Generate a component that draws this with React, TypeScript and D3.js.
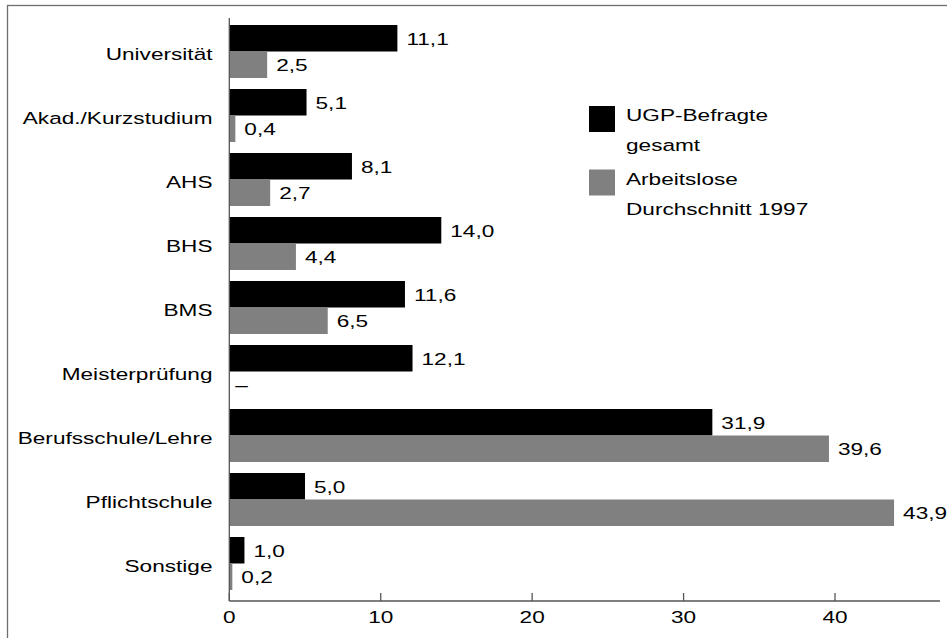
import React from "react";
import * as d3 from "d3";

const categories = [
  "Universität",
  "Akad./Kurzstudium",
  "AHS",
  "BHS",
  "BMS",
  "Meisterprüfung",
  "Berufsschule/Lehre",
  "Pflichtschule",
  "Sonstige",
];
const ugpValues: (number | null)[] = [11.1, 5.1, 8.1, 14.0, 11.6, 12.1, 31.9, 5.0, 1.0];
const alValues: (number | null)[] = [2.5, 0.4, 2.7, 4.4, 6.5, null, 39.6, 43.9, 0.2];
const xTicks = [0, 10, 20, 30, 40];
const legendLabels = [
  ["UGP-Befragte", "gesamt"],
  ["Arbeitslose", "Durchschnitt 1997"],
];
const seriesColors = ["#000000", "#808080"];

const W = 947;
const H = 638;
const SX = 1.33;
const FONT = "'Liberation Sans', Arial, sans-serif";

const fmt = (v: number) => v.toFixed(1).replace(".", ",");

function T({ x, y, anchor = "start", children, size = 17 }: any) {
  return (
    <text
      transform={`translate(${x},${y}) scale(${SX},1)`}
      textAnchor={anchor}
      fontFamily={FONT}
      fontSize={size}
      fill="#000"
    >
      {children}
    </text>
  );
}

export default function App() {
  const x = d3.scaleLinear().domain([0, 47]).range([229.3, 941]);
  const y = d3.scaleBand<string>().domain(categories).range([20.5, 596.5]).padding(0);
  const barH = 26.5;
  const offset = 4.5;
  const axisY = 601;
  const x0 = x(0);

  return (
    <svg
      width={W}
      height={H}
      style={{ position: "absolute", left: 0, top: 0, background: "#fff" }}
    >
      <rect x={0} y={0} width={W} height={H} fill="#fff" />
      <rect x={7.5} y={5.5} width={1000} height={1000} fill="none" stroke="#6e6e6e" strokeWidth={1.3} />

      {categories.map((c, i) => {
        const top = (y(c) as number) + offset;
        const series = [ugpValues[i], alValues[i]];
        return (
          <g key={c}>
            <T x={212.5} y={top + barH + 8.5} anchor="end">
              {c}
            </T>
            {series.map((v, s) => {
              const by = top + s * barH;
              if (v === null) {
                return (
                  <T key={s} x={x0 + 6} y={by + barH / 2 + 6.3}>
                    –
                  </T>
                );
              }
              return (
                <g key={s}>
                  <rect x={x0} y={by} width={x(v) - x0} height={barH} fill={seriesColors[s]} />
                  <T x={x(v) + 9} y={by + barH / 2 + 6.3}>
                    {fmt(v)}
                  </T>
                </g>
              );
            })}
          </g>
        );
      })}

      {/* axes */}
      <line x1={x0} x2={x0} y1={18} y2={axisY} stroke="#555" strokeWidth={1.3} />
      <line x1={x0} x2={940} y1={axisY} y2={axisY} stroke="#555" strokeWidth={1.3} />
      {xTicks.map((t) => (
        <g key={t}>
          <line x1={x(t)} x2={x(t)} y1={axisY} y2={axisY - 8} stroke="#555" strokeWidth={1.3} />
          <T x={x(t)} y={623} anchor="middle">
            {String(t)}
          </T>
        </g>
      ))}

      {/* legend */}
      {legendLabels.map((lines, i) => {
        const top = 106 + i * 63.5;
        return (
          <g key={i}>
            <rect x={589} y={top} width={26} height={26} fill={seriesColors[i]} />
            {lines.map((l, j) => (
              <T key={j} x={626} y={top + 15 + j * 30}>
                {l}
              </T>
            ))}
          </g>
        );
      })}
    </svg>
  );
}
